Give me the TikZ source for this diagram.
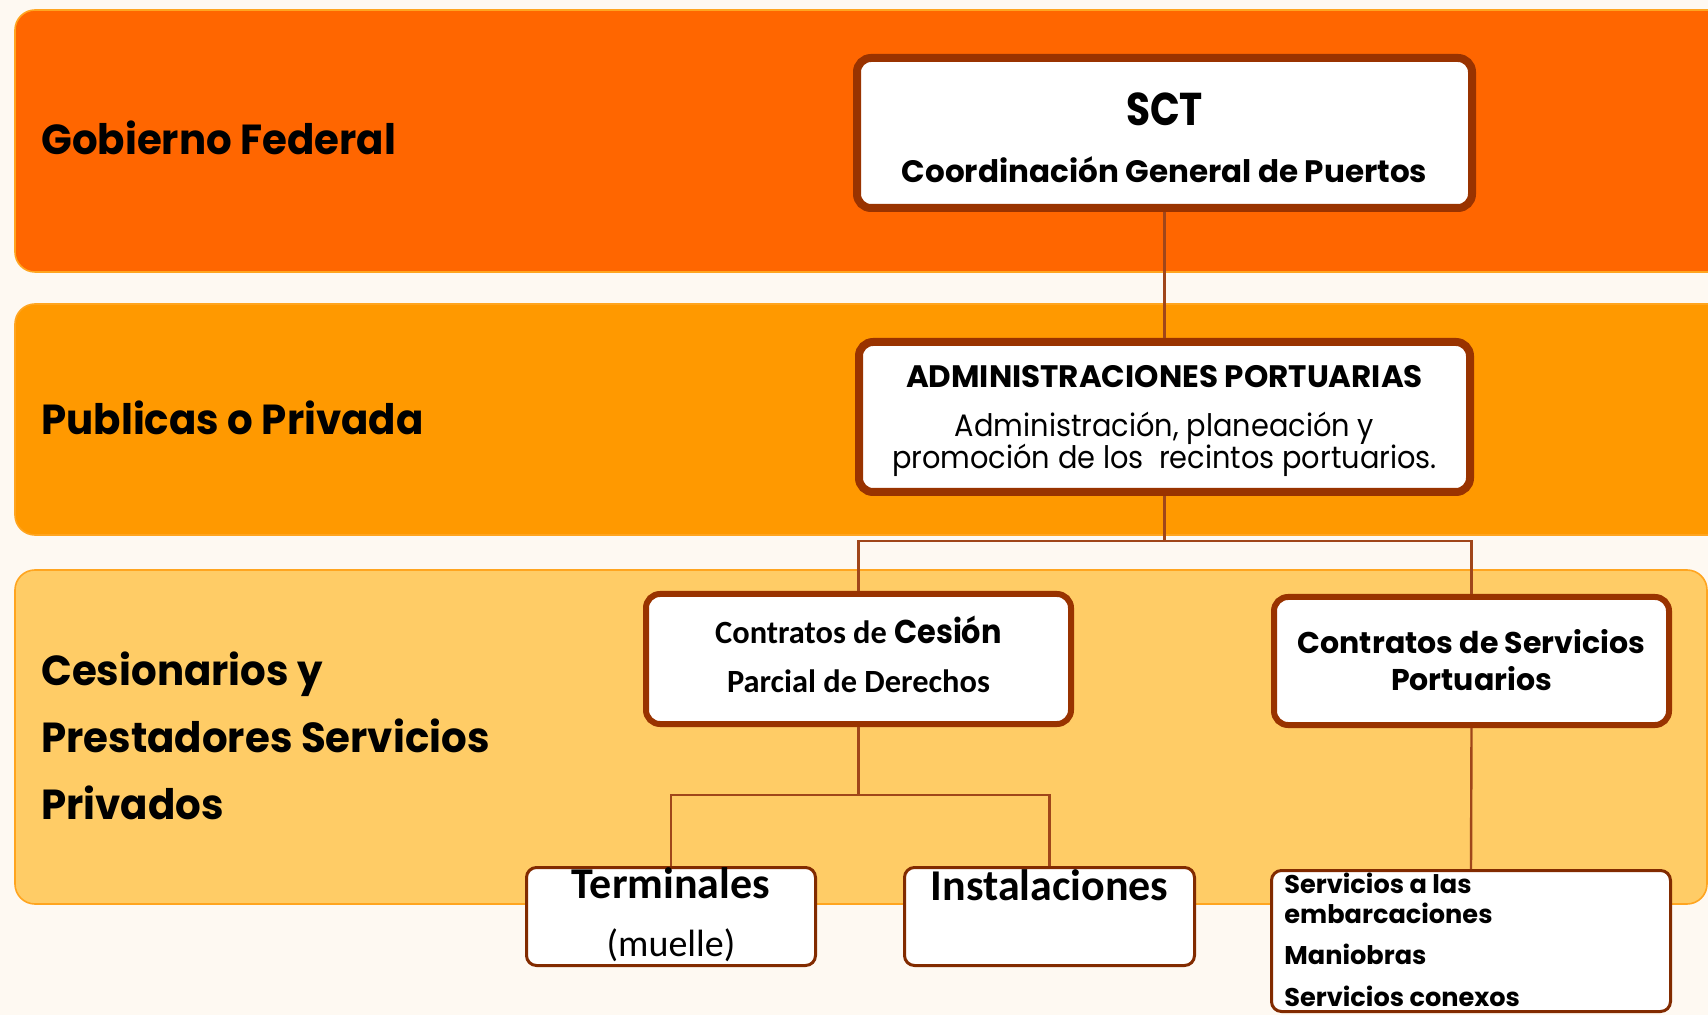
\documentclass[tikz,border=0pt]{standalone}
\usepackage{fontspec}
\newfontfamily\gothB{Poppins Bold}
\newfontfamily\gothBl[FakeStretch=0.96]{Poppins Bold}
\newfontfamily\gothBn[FakeStretch=0.85]{Poppins Bold}
\newfontfamily\gothBc[FakeStretch=0.92]{Poppins Bold}
\newfontfamily\gothR[FakeStretch=0.93]{Poppins}
\newfontfamily\calB{Carlito Bold}
\newfontfamily\calR{Carlito}
\definecolor{bgc}{HTML}{FEF9F2}
\definecolor{band1}{HTML}{FF6600}
\definecolor{band2}{HTML}{FF9900}
\definecolor{band3}{HTML}{FFCC66}
\definecolor{bandedge}{HTML}{FFA520}
\definecolor{bord}{HTML}{993300}
\definecolor{linec}{HTML}{A0461A}
\tikzset{
  band/.style={rounded corners=10pt, draw=bandedge, line width=0.8pt},
  bigbox/.style={draw=bord, fill=white, line width=4pt, rounded corners=7pt, inner sep=0},
  midbox/.style={bigbox, line width=3pt},
  smallbox/.style={draw=bord!85!black, fill=white, line width=1.5pt, rounded corners=5pt, inner sep=0},
  conn/.style={draw=linec, line width=1.2pt},
  lbl/.style={anchor=mid west, inner sep=0, font=\gothBl\fontsize{21}{25}\selectfont},
  txt/.style={inner sep=0, anchor=mid}
}
\begin{document}
\begin{tikzpicture}[x=0.5pt,y=-0.5pt]
\useasboundingbox (0,0) rectangle (1708,1015);
\fill[bgc] (0,0) rectangle (1708,1015);
% bands
\path[band, fill=band1] (15,10) rectangle (1730,272);
\path[band, fill=band2] (15,304) rectangle (1730,535);
\path[band, fill=band3] (15,570) rectangle (1707,904);
% left labels
\node[lbl] (lg) at (41,150) {Gobierno Federal};
\node[lbl] (lp) at (41,430) {Publicas o Privada};
\node[lbl] (lc1) at (41,681) {Cesionarios y};
\node[lbl] (lc2) at (41,748) {Prestadores Servicios};
\node[lbl] (lc3) at (41,815) {Privados};
% boxes
\node[bigbox, minimum width=307.5pt, minimum height=75pt] (sct) at (1164.5,133) {};
\node[bigbox, minimum width=305.5pt, minimum height=75pt] (adm) at (1164.5,417) {};
\node[midbox, minimum width=212.5pt, minimum height=65pt] (ces) at (858.5,659) {};
\node[midbox, minimum width=197.5pt, minimum height=64pt] (csp) at (1471.5,661) {};
\node[smallbox, minimum width=144.5pt, minimum height=49pt] (ter) at (671,916.5) {};
\node[smallbox, minimum width=145pt, minimum height=49pt] (ins) at (1049.5,916.5) {};
\node[smallbox, minimum width=199.5pt, minimum height=70.5pt] (ser) at (1471,941) {};
% connectors
\coordinate (j1) at (1164.5,541);
\coordinate (j2) at (858.5,795);
\draw[conn] (sct.south) -- (adm.north);
\draw[conn] (adm.south) -- (j1) -| (ces.north);
\draw[conn] (j1) -| (csp.north);
\draw[conn] (ces.south) -- (j2) -| (ter.north);
\draw[conn] (j2) -| (ins.north);
\draw[conn] (csp.south) -- (ser.north);
% box texts
\node[txt, font=\gothBn\fontsize{23}{26}\selectfont] (t1) at (1164.5,121) {SCT};
\node[txt, font=\gothB\fontsize{15.5}{18}\selectfont] (t2) at (1164.5,178) {Coordinación General de Puertos};
\node[txt, font=\gothB\fontsize{15.5}{18}\selectfont] (t3) at (1164.5,383) {ADMINISTRACIONES PORTUARIAS};
\node[txt, font=\gothR\fontsize{15.5}{18}\selectfont] (t4) at (1164.5,432) {Administración, planeación y};
\node[txt, font=\gothR\fontsize{15.5}{18}\selectfont] (t5) at (1164.5,464) {promoción de los\ \ recintos portuarios.};
\node[txt, font=\calB\fontsize{16.2}{18}\selectfont] (t6) at (858.5,639) {Contratos de {\gothBc\fontsize{16.5}{18}\selectfont Cesión}};
\node[txt, font=\calB\fontsize{16.2}{18}\selectfont] (t7) at (858.5,688) {Parcial de Derechos};
\node[txt, font=\gothB\fontsize{15}{18}\selectfont] (t8) at (1471.5,649) {Contratos de Servicios};
\node[txt, font=\gothB\fontsize{15}{18}\selectfont] (t9) at (1471.5,686) {Portuarios};
\node[txt, font=\calB\fontsize{22}{24}\selectfont] (t10) at (671,894) {Terminales};
\node[txt, font=\calR\fontsize{19}{22}\selectfont] (t11) at (671,952) {(muelle)};
\node[txt, font=\calB\fontsize{22}{24}\selectfont] (t12) at (1049.5,896) {Instalaciones};
\node[txt, anchor=mid west, font=\gothB\fontsize{12.8}{16}\selectfont] (t13) at (1284,889) {Servicios a las};
\node[txt, anchor=mid west, font=\gothB\fontsize{12.8}{16}\selectfont] (t14) at (1284,919) {embarcaciones};
\node[txt, anchor=mid west, font=\gothB\fontsize{12.8}{16}\selectfont] (t15) at (1284,960) {Maniobras};
\node[txt, anchor=mid west, font=\gothB\fontsize{12.8}{16}\selectfont] (t16) at (1284,1002) {Servicios conexos};
\end{tikzpicture}
\end{document}
